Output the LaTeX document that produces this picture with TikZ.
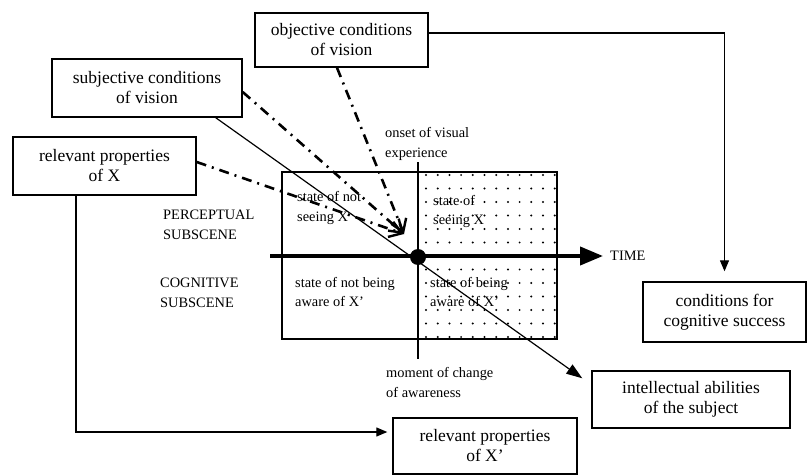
\documentclass[tikz,border=0pt]{standalone}
\usepackage{fontspec}
\setmainfont{Liberation Serif}
\usetikzlibrary{arrows.meta}
\begin{document}
\begin{tikzpicture}[x=1pt,y=-1pt,
  box/.style={draw, line width=1.4pt, align=center, inner sep=0pt,
    font=\fontsize{17.5}{20}\selectfont},
  lbl/.style={align=left, inner sep=0pt, anchor=west,
    font=\fontsize{14.4}{19.5}\selectfont},
  link/.style={line width=1.2pt, -{Triangle[length=11pt,width=9pt]}},
  cause/.style={line width=2.6pt, dash pattern=on 10pt off 6pt on 2pt off 6pt,
    -{Straight Barb[length=12pt,width=16pt,line width=2.4pt]}},
]
\path[use as bounding box, fill=white] (0,0) rectangle (808,476);

% boxes
\node[box, minimum width=173pt, minimum height=54pt] (obj) at (341.5,40) {objective conditions\\of vision};
\node[box, minimum width=190pt, minimum height=58pt] (subj) at (147,88) {subjective conditions\\of vision};
\node[box, minimum width=183pt, minimum height=58pt] (relX) at (104.5,166) {relevant properties\\of X};
\node[box, minimum width=163pt, minimum height=60pt] (cond) at (724.5,312) {conditions for\\cognitive success};
\node[box, minimum width=198pt, minimum height=57pt] (intel) at (691,399.5) {intellectual abilities\\of the subject};
\node[box, minimum width=184pt, minimum height=56pt] (relXp) at (485,446) {relevant properties\\of X’};

% dotted half of the scene (after the change)
\foreach \i in {0,...,11}
  \foreach \j in {0,...,12}
    \fill (426+11.7*\i, 175+13.5*\j) circle (1.1pt);

% scene frame and the moment of change
\draw[line width=1.4pt] (282,172) rectangle (557,339);
\coordinate (vtop) at (418,162);
\coordinate (vbot) at (418,359);
\draw[line width=1.3pt] (vtop) -- (vbot);

% labels
\node[lbl] (onset) at (385,144) {onset of visual\\experience};
\node[lbl] (perc) at (163,225) {PERCEPTUAL\\SUBSCENE};
\node[lbl] (cogn) at (160,293) {COGNITIVE\\SUBSCENE};
\node[lbl] (notsee) at (297,208) {state of not\\seeing X};
\node[lbl] (see) at (433,211.5) {state of\\seeing X};
\node[lbl] (notaware) at (295,292) {state of not being\\aware of X’};
\node[lbl] (aware) at (430,292) {state of being\\aware of X’};
\node[lbl] (change) at (386,382.5) {moment of change\\of awareness};
\node[lbl] (time) at (610,256) {TIME};

% time axis
\coordinate (tstart) at (270,256);
\draw[line width=4pt, -{Triangle[length=23pt,width=18pt]}, shorten >=7pt] (tstart) -- (time.west);
\node[circle, fill, minimum size=16pt, inner sep=0pt] (moment) at (418,257) {};

% connectors
\draw[link, shorten >=10pt] ([yshift=7pt]obj.east) -| (cond.north);
\draw[link, shorten >=5pt] ([xshift=-28.5pt]relX.south) |- ([yshift=14pt]relXp.west);
\draw[line width=1.2pt, -{Triangle[length=16pt,width=11pt]}]
  ([xshift=-27pt]subj.south east) -- ([xshift=-9pt,yshift=-8pt]intel.north west);

\coordinate (focus) at (404,234);
\draw[cause] ([xshift=-4.5pt]obj.south) -- (focus);
\draw[cause] ([yshift=-4pt]subj.east) -- (focus);
\draw[cause] ([yshift=4pt]relX.east) -- (focus);
\end{tikzpicture}
\end{document}
